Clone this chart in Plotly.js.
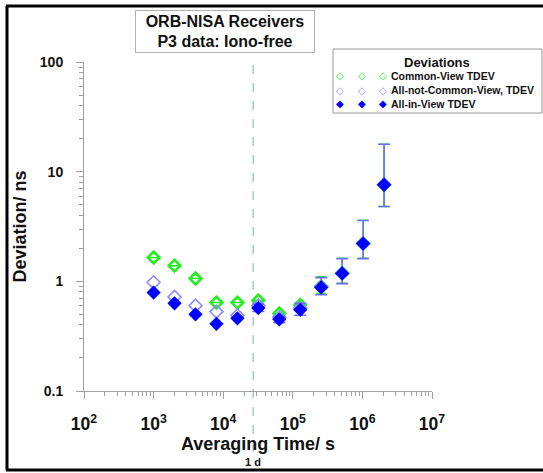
<!DOCTYPE html>
<html>
<head>
<meta charset="utf-8">
<script src="https://cdn.plot.ly/plotly-3.0.1.min.js"></script>
<style>html,body{margin:0;padding:0;background:#fff;}#chart{width:543px;height:473px;}</style>
</head>
<body>
<div id="chart"></div>
<script>
// Averaging times (s)
const tau = [1000, 2000, 4000, 8000, 16000, 32000, 64000, 128000, 256000, 512000, 1024000, 2048000];
// Common-View TDEV (ns)
const cvTdev = [1.65, 1.39, 1.06, 0.64, 0.64, 0.67, 0.51, 0.61, 0.90, 1.19, 2.22, 7.6];
// All-not-Common-View TDEV (ns)
const ancvTdev = [0.98, 0.72, 0.60, 0.53, 0.49, 0.60, 0.47, 0.57, 0.89, 1.18, 2.21, 7.6];
// All-in-View TDEV (ns)
const aivTdev = [0.79, 0.63, 0.50, 0.41, 0.46, 0.57, 0.45, 0.55, 0.88, 1.18, 2.21, 7.6];
// All-in-View confidence bounds (ns)
const aivUpper = [null, null, null, null, null, 0.62, 0.48, 0.63, 1.08, 1.61, 3.59, 17.8];
const aivLower = [null, null, null, null, null, 0.53, 0.42, 0.49, 0.755, 0.953, 1.61, 4.82];
// "1 d" marker position on the tau axis (s)
const dayMarker = [27000];
const dayLabel = ['1 d'];
const yTickVals = [0.1, 1, 10, 100];
const yTickText = ['0.1', '1', '10', '100'];
const seriesNames = ['Common-View TDEV', 'All-not-Common-View, TDEV', 'All-in-View TDEV'];
const legendTitle = 'Deviations';

const GREEN = '#22ee22', LAV = '#8c8cff', BLUE = '#0000ff', ERR = '#6f6fff';
const FONT = 'Liberation Sans, Arial, sans-serif';

// pixel -> paper helpers (plot area: x 84..432, y 62..391)
const PX = px => (px - 84) / 348;
const PY = py => (391 - py) / 329;

const errPlus = aivUpper.map((u, i) => u == null ? 0 : u - aivTdev[i]);
const errMinus = aivLower.map((l, i) => l == null ? 0 : aivTdev[i] - l);

const traces = [
  {
    x: tau, y: cvTdev, type: 'scatter', mode: 'markers', name: seriesNames[0],
    marker: {symbol: 'diamond-open', size: 9, color: GREEN, line: {width: 2.6, color: GREEN}},
    error_y: {type: 'data', symmetric: false, array: errPlus.map((p, i) => i >= 8 ? p : 0),
      arrayminus: errMinus.map((m, i) => i >= 8 ? m : 0), color: GREEN, thickness: 1.5, width: 5, visible: true}
  },
  {
    x: tau, y: ancvTdev, type: 'scatter', mode: 'markers', name: seriesNames[1],
    marker: {symbol: 'diamond-open', size: 10, color: LAV, line: {width: 1.6, color: LAV}}
  },
  {
    // drawn on the overlay axes (same ranges) that also carry the minor ticks
    x: tau, y: aivTdev, type: 'scatter', mode: 'markers', name: seriesNames[2],
    xaxis: 'x2', yaxis: 'y2',
    marker: {symbol: 'diamond', size: 11, color: BLUE, line: {width: 0}},
    error_y: {type: 'data', symmetric: false, array: errPlus, arrayminus: errMinus,
      color: ERR, thickness: 1.6, width: 6, visible: true}
  }
];

// minor tick positions (2..9 x 10^k)
function minorVals(lo, hi) {
  const v = [];
  for (let k = lo; k < hi; k++) for (let m = 2; m <= 9; m++) v.push(m * Math.pow(10, k));
  return v;
}

const axisCommon = {
  type: 'log', showgrid: false, zeroline: false, showline: true, linecolor: '#a0a0a0', linewidth: 1,
  ticks: 'outside', tickcolor: '#a0a0a0', ticklen: 7, tickwidth: 1,
  tickfont: {family: FONT, size: 14, color: '#111', weight: 'bold'}
};
const minorAxis = {
  type: 'log', showgrid: false, zeroline: false, showline: false, showticklabels: false,
  ticks: 'outside', tickcolor: '#a0a0a0', ticklen: 4, tickwidth: 1, tickmode: 'array'
};

const annotations = [
  {text: 'ORB-NISA Receivers<br>P3 data: Iono-free', xref: 'paper', yref: 'paper',
    x: PX(225), y: PY(31), xanchor: 'center', yanchor: 'middle', showarrow: false,
    font: {family: FONT, size: 16, color: '#111', weight: 'bold'},
    width: 176, height: 39, bordercolor: '#b0b0b0', borderwidth: 1, borderpad: 1, bgcolor: '#fff'},
  {text: dayLabel[0], xref: 'x', yref: 'paper', x: Math.log10(dayMarker[0]), y: PY(462),
    xanchor: 'center', yanchor: 'middle', showarrow: false,
    font: {family: FONT, size: 11, color: '#111', weight: 'bold'}},
  {text: legendTitle, xref: 'paper', yref: 'paper', x: PX(437), y: PY(62),
    xanchor: 'center', yanchor: 'middle', showarrow: false,
    font: {family: FONT, size: 13, color: '#111', weight: 'bold'}}
];
// manual legend rows (three symbols then text, like the original)
const legColors = [GREEN, LAV, BLUE];
const legGlyphs = ['\u25C7', '\u25C7', '\u25C6'];
const legGlyphX = [340, 362, 383];
seriesNames.forEach((nm, i) => {
  const rowY = 76 + 14 * i;
  legGlyphX.forEach(gx => annotations.push({
    text: legGlyphs[i], xref: 'paper', yref: 'paper', x: PX(gx), y: PY(rowY),
    xanchor: 'center', yanchor: 'middle', showarrow: false,
    font: {family: 'DejaVu Sans', size: 10, color: legColors[i], weight: 'bold'}
  }));
  annotations.push({
    text: nm, xref: 'paper', yref: 'paper', x: PX(389), y: PY(rowY),
    xanchor: 'left', yanchor: 'middle', showarrow: false,
    font: {family: FONT, size: 10.5, color: '#111', weight: 'bold'}
  });
});

const layout = {
  width: 543, height: 473,
  margin: {l: 84, r: 111, t: 62, b: 82},
  paper_bgcolor: '#fff', plot_bgcolor: '#fff',
  showlegend: false,
  font: {family: FONT},
  xaxis: Object.assign({}, axisCommon, {
    range: [2, 7], dtick: 1, exponentformat: 'power', showexponent: 'all', ticklabelstandoff: 11,
    title: {text: 'Averaging Time/ s', font: {family: FONT, size: 18, color: '#111', weight: 'bold'}, standoff: 0}
  }),
  yaxis: Object.assign({}, axisCommon, {
    range: [-1, 2], tickvals: yTickVals, ticktext: yTickText, ticklabelstandoff: 10,
    title: {text: 'Deviation/ ns', font: {family: FONT, size: 18, color: '#111', weight: 'bold'}, standoff: 8}
  }),
  xaxis2: Object.assign({}, minorAxis, {range: [2, 7], tickvals: minorVals(2, 7), overlaying: 'x', anchor: 'y2', side: 'bottom'}),
  yaxis2: Object.assign({}, minorAxis, {range: [-1, 2], tickvals: minorVals(-1, 2), overlaying: 'y', anchor: 'x2', side: 'left'}),
  shapes: [
    {type: 'line', xref: 'x', yref: 'paper', x0: dayMarker[0], x1: dayMarker[0], y0: PY(452), y1: 1,
      line: {color: '#adc8c8', width: 1.5, dash: 'dash'}, layer: 'below'},
    {type: 'rect', xref: 'paper', yref: 'paper', x0: PX(333), x1: PX(542), y0: PY(113), y1: PY(49),
      line: {color: '#999', width: 1}},
    {type: 'line', xref: 'paper', yref: 'paper', x0: PX(7), x1: PX(7), y0: PY(470), y1: PY(6),
      line: {color: '#000', width: 3}},
    {type: 'line', xref: 'paper', yref: 'paper', x0: PX(6), x1: PX(560), y0: PY(6), y1: PY(6),
      line: {color: '#000', width: 3}},
    {type: 'line', xref: 'paper', yref: 'paper', x0: PX(6), x1: PX(560), y0: PY(470), y1: PY(470),
      line: {color: '#000', width: 3}}
  ],
  annotations: annotations
};

Plotly.newPlot('chart', traces, layout, {displayModeBar: false, staticPlot: true});
</script>
</body>
</html>
